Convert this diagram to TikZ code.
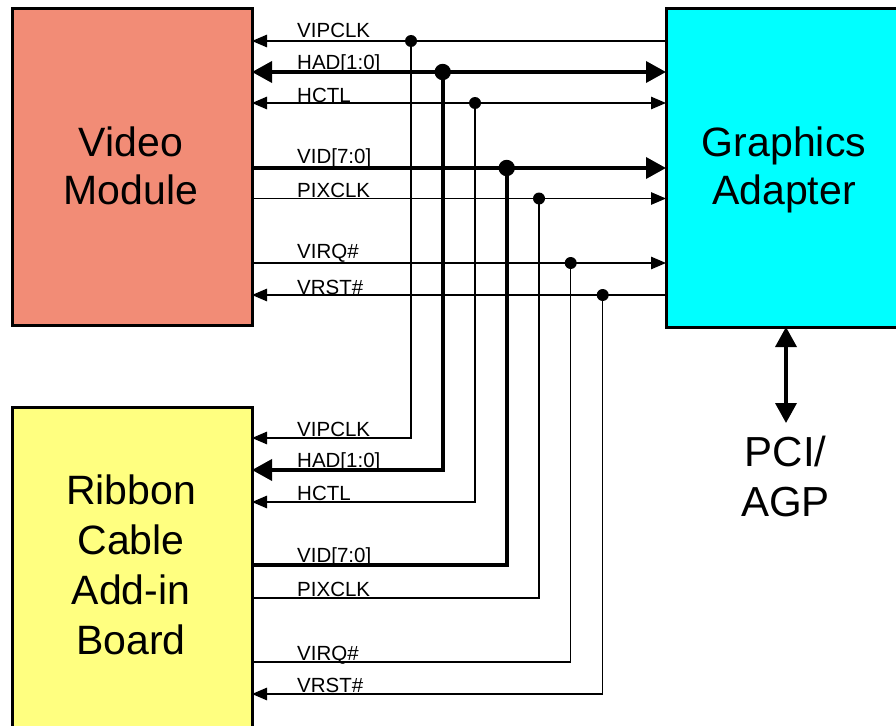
\documentclass[tikz,border=0pt]{standalone}
\usepackage{fontspec}
\setmainfont{Liberation Sans}
\usetikzlibrary{arrows.meta}

\definecolor{modfill}{HTML}{F28C76}
\definecolor{gafill}{HTML}{00FFFF}
\definecolor{rbfill}{HTML}{FFFF80}

\begin{document}
\begin{tikzpicture}[x=1pt,y=-1pt,
  block/.style={draw=black, line width=3pt, inner sep=0pt, outer sep=0pt},
  bigtext/.style={font=\fontsize{41}{48}\selectfont, align=center, inner sep=0pt},
  siglabel/.style={font=\fontsize{20.5}{24}\selectfont, anchor=base west, inner sep=0pt},
  wire/.style={line width=1.25pt, black},
  bus/.style={line width=3.6pt, black},
  wtip/.tip={Triangle[length=15pt,width=12.5pt]},
  btip/.tip={Triangle[length=20pt,width=21pt]},
  dot/.style={fill=black},
]
\useasboundingbox (0,0) rectangle (896,725);

% ---- blocks ----
\node[block, fill=modfill, minimum width=240pt, minimum height=316pt] (vm) at (132,167) {};
\node[block, fill=gafill, minimum width=240pt, minimum height=318pt] (ga) at (786,168) {};
\node[block, fill=rbfill, minimum width=240pt, minimum height=320pt] (rb) at (132,567) {};

\node[bigtext] (vmtext) at (131,166) {Video\\Module};
\node[bigtext] (gatext) at (784,170) {Graphics\\Adapter};
\node[bigtext, font=\fontsize{41}{50}\selectfont] (rbtext) at (131,565) {Ribbon\\Cable\\Add-in\\Board};
\node[bigtext, font=\fontsize{42}{50}\selectfont] (pcitext) at (785.5,476) {PCI/\\AGP};

% ---- host bus ----
\coordinate (pcib) at (786,423);
\draw[bus, {btip}-{btip}] (ga.south -| pcib) -- (pcib);

% ---- junction points on the upper signals ----
\coordinate (j1) at (411,41);
\coordinate (j2) at (442.7,72);
\coordinate (j3) at (475,103);
\coordinate (j4) at (506.7,168);
\coordinate (j5) at (539,198.5);
\coordinate (j6) at (570.7,263);
\coordinate (j7) at (602.7,295);

% ---- corner points on the lower signals ----
\coordinate (k1) at (411,438);
\coordinate (k2) at (442.7,470);
\coordinate (k3) at (475,502);
\coordinate (k4) at (506.7,565);
\coordinate (k5) at (539,598);
\coordinate (k6) at (570.7,662);
\coordinate (k7) at (602.7,694);

% ---- signals between video module and graphics adapter ----
\draw[wire, -{wtip}] (ga.west |- j1) -- (vm.east |- j1);
\draw[bus, {btip}-{btip}] (vm.east |- j2) -- (ga.west |- j2);
\draw[wire, {wtip}-{wtip}] (vm.east |- j3) -- (ga.west |- j3);
\draw[bus, -{btip}] (vm.east |- j4) -- (ga.west |- j4);
\draw[wire, -{wtip}] (vm.east |- j5) -- (ga.west |- j5);
\draw[wire, -{wtip}] (vm.east |- j6) -- (ga.west |- j6);
\draw[wire, -{wtip}] (ga.west |- j7) -- (vm.east |- j7);

% ---- branches down to the ribbon cable board ----
\draw[wire, -{wtip}] (j1) -- (k1) -- (rb.east |- k1);
\draw[bus, -{btip}] (j2) -- (k2) -- (rb.east |- k2);
\draw[wire, -{wtip}] (j3) -- (k3) -- (rb.east |- k3);
\draw[bus] (j4) -- (k4) -- (rb.east |- k4);
\draw[wire] (j5) -- (k5) -- (rb.east |- k5);
\draw[wire] (j6) -- (k6) -- (rb.east |- k6);
\draw[wire, -{wtip}] (j7) -- (k7) -- (rb.east |- k7);

% ---- junction dots ----
\fill[dot] (j1) circle[radius=6pt];
\fill[dot] (j2) circle[radius=8.2pt];
\fill[dot] (j3) circle[radius=6pt];
\fill[dot] (j4) circle[radius=8.2pt];
\fill[dot] (j5) circle[radius=6pt];
\fill[dot] (j6) circle[radius=6pt];
\fill[dot] (j7) circle[radius=6pt];

% ---- signal names, upper group ----
\node[siglabel] (la1) at (297,37.3) {VIPCLK};
\node[siglabel] (la2) at (297,70) {HAD[1:0]};
\node[siglabel] (la3) at (297,102.7) {HCTL};
\node[siglabel] (la4) at (297,163.3) {VID[7:0]};
\node[siglabel] (la5) at (297,197.3) {PIXCLK};
\node[siglabel] (la6) at (297,258.3) {VIRQ\#};
\node[siglabel] (la7) at (297,294) {VRST\#};

% ---- signal names, lower group ----
\node[siglabel] (lb1) at (297,436.7) {VIPCLK};
\node[siglabel] (lb2) at (297,467.3) {HAD[1:0]};
\node[siglabel] (lb3) at (297,500.7) {HCTL};
\node[siglabel] (lb4) at (297,562.3) {VID[7:0]};
\node[siglabel] (lb5) at (297,596.7) {PIXCLK};
\node[siglabel] (lb6) at (297,660) {VIRQ\#};
\node[siglabel] (lb7) at (297,692.3) {VRST\#};
\end{tikzpicture}
\end{document}
